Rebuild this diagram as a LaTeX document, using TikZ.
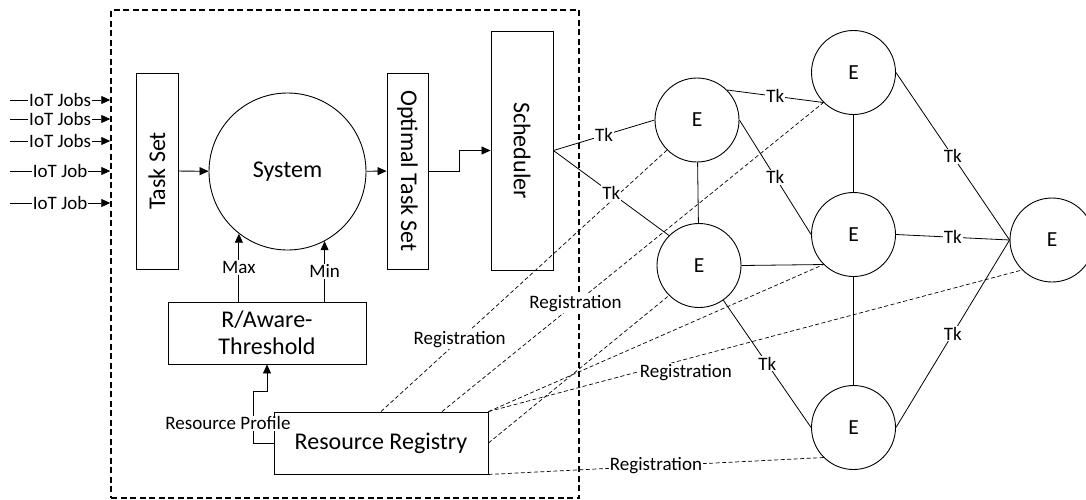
\documentclass[tikz,border=0pt]{standalone}
\usepackage{fontspec}
\setmainfont{Carlito}
\usetikzlibrary{arrows.meta}
\usetikzlibrary{calc}

\tikzset{
  box/.style={draw, line width=0.9pt, inner sep=0pt, font=\fontsize{24}{27}\selectfont},
  enode/.style={draw, circle, line width=0.9pt, minimum size=84pt, inner sep=0pt, font=\fontsize{21.5}{24}\selectfont},
  lbl/.style={fill=white, inner sep=1pt, font=\fontsize{19}{21}\selectfont},
  arr/.style={-{Triangle[length=9pt,width=8pt]}},
  reg/.style={dash pattern=on 4pt off 2.5pt, line width=0.7pt},
  frame/.style={draw, dash pattern=on 6pt off 3.5pt, line width=1.5pt},
}

\begin{document}
\begin{tikzpicture}[x=1pt, y=-1pt, line width=0.8pt]
    \path[use as bounding box, clip] (0,0) rectangle (1086,499);
    \draw (345,254) node[frame, minimum width=468, minimum height=488] (frame) {};

    \draw (157,171) node[box, rotate=90, minimum width=196, minimum height=42] (taskset) {Task Set};
    \draw (287.5,171.5) node[box, circle, minimum size=157] (system) {System};
    \draw (407.5,171) node[box, rotate=-90, minimum width=196, minimum height=41] (optset) {Optimal Task Set};
    \draw (522,150.5) node[box, rotate=-90, minimum width=239, minimum height=62] (sched) {Scheduler};
    \draw (267,333) node[box, align=center, minimum width=198, minimum height=62] (thresh) {R/Aware-\\Threshold};
    \draw (381,443) node[box, minimum width=214, minimum height=62] (registry) {Resource Registry};

    \draw (697,120) node[enode] (e1) {E};
    \draw (699,265.5) node[enode] (e2) {E};
    \draw (853.5,72.5) node[enode] (e3) {E};
    \draw (853.5,234.5) node[enode] (e4) {E};
    \draw (853.5,427.5) node[enode] (e5) {E};
    \draw (1052,240) node[enode] (e6) {E};

    \foreach \y/\t [count=\i] in {100/IoT Jobs, 119/IoT Jobs, 141/IoT Jobs, 171/IoT Job, 203/IoT Job} {
        \coordinate (in\i) at (10,\y);
        \draw[arr] (in\i) -- node[lbl, inner ysep=0pt] {\t} (in\i -| frame.west);
    }

    \draw[arr] (taskset) -- (system);
    \draw[arr] (system) -- (optset);
    \draw[arr] (optset.north) -- ++(31,0) |- (sched.south);
    \draw[arr] (thresh.north -| system.232) -- node[lbl] {Max} (system.232);
    \draw[arr] (thresh.north -| system.298) -- node[lbl] {Min} (system.298);
    \draw[arr] (registry.west) -| node[lbl, pos=0.69, xshift=-25pt] {Resource Profile} (253,391)
        -- (thresh.south |- 0,391) -- (thresh.south);

    \draw[reg] (registry.north) -- node[lbl, pos=0.275] {Registration} (e1.225);
    \draw[reg] ([xshift=61pt]registry.north) -- node[lbl, pos=0.35] {Registration} (e3.225);
    \draw[reg] (registry.north east) -- (e4.225);
    \draw[reg] (registry.north east) -- node[lbl, pos=0.37, yshift=-13pt] {Registration} (e6.225);
    \draw[reg] (registry.east) -- (e2.225);
    \draw[reg] (registry.south east) -- node[lbl] {Registration} (e5.225);

    \draw (sched.north) -- node[lbl] {Tk} (e1.west);
    \draw (sched.north) -- node[lbl] {Tk} (e2.135);
    \draw (e1) -- (e2);
    \draw (e1.45) -- node[lbl] {Tk} (e3.225);
    \draw (e1.east) -- node[lbl] {Tk} (e4.west);
    \draw (e2.east) -- (e4.225);
    \draw (e2.305) -- node[lbl] {Tk} (e5.west);
    \draw (e3) -- (e4);
    \draw (e4) -- (e5);
    \draw (e3.east) -- node[lbl] {Tk} (e6.west);
    \draw (e4.east) -- node[lbl] {Tk} (e6.west);
    \draw (e5.east) -- node[lbl] {Tk} (e6.west);
\end{tikzpicture}
\end{document}
